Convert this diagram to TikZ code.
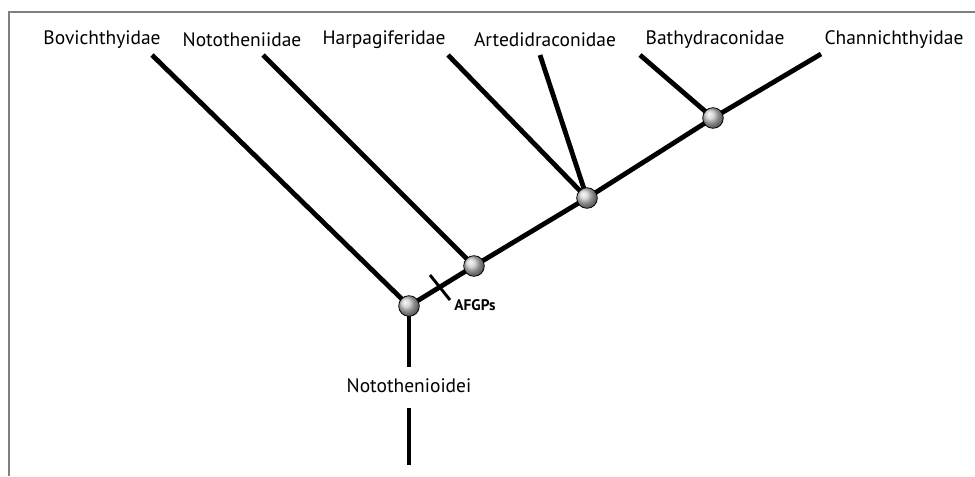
\documentclass[tikz,border=0pt]{standalone}
\usepackage{fontspec}
\setmainfont{PT Sans}
\begin{document}
\begin{tikzpicture}[x=0.75pt,y=-0.75pt,
    branch/.style={line width=3.6pt},
    split/.style={circle,draw,line width=0.6pt,shading=ball,ball color=gray!40,minimum size=15.5pt,inner sep=0pt},
    taxon/.style={font=\fontsize{14.6}{17}\selectfont}]
    \useasboundingbox (0,0) rectangle (975,476);
    % Frame
    \draw[gray,line width=1.5pt] (8.5,476) -- (8.5,12) -- (975,12);

    % Labels
    \node[taxon] (bov) at (102,40) {Bovichthyidae};
    \node[taxon] (not) at (242,40) {Nototheniidae};
    \node[taxon] (har) at (384,40) {Harpagiferidae};
    \node[taxon] (art) at (545,40) {Artedidraconidae};
    \node[taxon] (bat) at (715,40) {Bathydraconidae};
    \node[taxon] (cha) at (894,40) {Channichthyidae};
    \node[taxon] (root) at (409,386) {Notothenioidei};
    \node[font=\bfseries\fontsize{11.5}{13}\selectfont] (afgp) at (475,305) {AFGPs};

    % Tips and splits
    \coordinate (tbov) at (152,55);
    \coordinate (tnot) at (263,55);
    \coordinate (thar) at (448,55);
    \coordinate (tart) at (540,55);
    \coordinate (tbat) at (640,55);
    \coordinate (tcha) at (821,54);
    \coordinate (c1) at (409,306);
    \coordinate (c2) at (474,266);
    \coordinate (c3) at (587,198);
    \coordinate (c4) at (713,118);
    \coordinate (stem1) at (409,367);
    \coordinate (stem2) at (409,408);
    \coordinate (stem3) at (409,465);
    \coordinate (tick1) at (430,275);
    \coordinate (tick2) at (450,300);

    % Branches
    \draw[branch] (c1) -- (c2) -- (c3) -- (c4) -- (tcha);
    \draw[branch] (tbov) -- (c1);
    \draw[branch] (tnot) -- (c2);
    \draw[branch] (thar) -- (c3);
    \draw[branch] (tart) -- (c3);
    \draw[branch] (tbat) -- (c4);
    \draw[branch] (c1) -- (stem1);
    \draw[branch] (stem2) -- (stem3);
    \draw[line width=2.2pt] (tick1) -- (tick2);

    % Splits
    \foreach \c in {1,...,4}
        \node[split] (s\c) at (c\c) {};
\end{tikzpicture}
\end{document}
